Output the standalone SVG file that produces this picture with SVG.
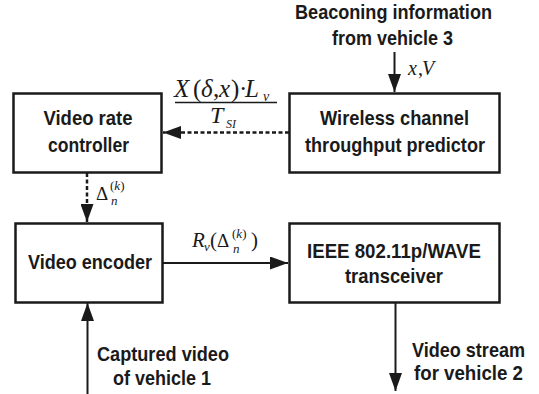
<svg xmlns="http://www.w3.org/2000/svg" width="539" height="394" viewBox="0 0 539 394">
<style>
.box{fill:#fff;stroke:#1a1a1a;stroke-width:2.5}
.lbl{font-family:"Liberation Sans",Arial,sans-serif;font-weight:bold;font-size:21px;fill:#1a1a1a;text-anchor:middle}
.m{font-family:"Liberation Serif","Times New Roman",serif;fill:#1a1a1a}
.it{font-style:italic}
.wire{stroke:#1a1a1a;stroke-width:2;fill:none}
.dash{stroke:#1a1a1a;stroke-width:2.5;fill:none;stroke-dasharray:4 2.5}
</style>
<defs>
<marker id="ah" markerUnits="userSpaceOnUse" markerWidth="18" markerHeight="13" refX="18" refY="6.5" orient="auto">
<path d="M0,0 L18,6.5 L0,13 Z" fill="#1a1a1a"/>
</marker>
</defs>
<rect width="539" height="394" fill="#fff"/>
<g id="connectors">
<line class="dash" x1="289" y1="132.5" x2="163" y2="132.5" marker-end="url(#ah)"/>
<line class="dash" x1="87" y1="173" x2="87" y2="222" marker-end="url(#ah)"/>
<line class="wire" x1="394.5" y1="52" x2="394.5" y2="92" marker-end="url(#ah)"/>
<line class="wire" x1="163" y1="263" x2="288" y2="263" marker-end="url(#ah)"/>
<line class="wire" x1="87.5" y1="394" x2="87.5" y2="303" marker-end="url(#ah)"/>
<line class="wire" x1="395.5" y1="302" x2="395.5" y2="391" marker-end="url(#ah)"/>
</g>
<g id="vrc">
<rect class="box" x="13.5" y="93.5" width="148" height="79"/>
<text class="lbl" x="88" y="125" textLength="89" lengthAdjust="spacingAndGlyphs">Video rate</text>
<text class="lbl" x="88.5" y="152" textLength="81" lengthAdjust="spacingAndGlyphs">controller</text>
</g>
<g id="wctp">
<rect class="box" x="289.5" y="93.5" width="210" height="79"/>
<text class="lbl" x="394.5" y="125" textLength="149" lengthAdjust="spacingAndGlyphs">Wireless channel</text>
<text class="lbl" x="395" y="152" textLength="180" lengthAdjust="spacingAndGlyphs">throughput predictor</text>
</g>
<g id="enc">
<rect class="box" x="15.5" y="223.5" width="147" height="79"/>
<text class="lbl" x="90" y="269" textLength="124" lengthAdjust="spacingAndGlyphs">Video encoder</text>
</g>
<g id="wave">
<rect class="box" x="289.5" y="223.5" width="210" height="79"/>
<text class="lbl" x="394" y="258" textLength="174" lengthAdjust="spacingAndGlyphs">IEEE 802.11p/WAVE</text>
<text class="lbl" x="394" y="283" textLength="98" lengthAdjust="spacingAndGlyphs">transceiver</text>
</g>
<g id="beacon">
<text class="lbl" x="393.5" y="19" textLength="197" lengthAdjust="spacingAndGlyphs">Beaconing information</text>
<text class="lbl" x="392.5" y="45" textLength="121" lengthAdjust="spacingAndGlyphs">from vehicle 3</text>
<text class="m" font-size="20" y="75"><tspan x="408" class="it">x</tspan><tspan x="418">,</tspan><tspan x="422" class="it">V</tspan></text>
</g>
<g id="captured">
<text class="lbl" x="163" y="361" textLength="132" lengthAdjust="spacingAndGlyphs">Captured video</text>
<text class="lbl" x="162" y="385" textLength="98" lengthAdjust="spacingAndGlyphs">of vehicle 1</text>
</g>
<g id="stream">
<text class="lbl" x="468.5" y="357" textLength="113" lengthAdjust="spacingAndGlyphs">Video stream</text>
<text class="lbl" x="468.5" y="380" textLength="109" lengthAdjust="spacingAndGlyphs">for vehicle 2</text>
</g>
<g id="fraction">
<text class="m" font-size="25" y="97"><tspan x="174" class="it">X</tspan><tspan x="193">(</tspan><tspan x="201" class="it">δ</tspan><tspan x="213">,</tspan><tspan x="219" class="it">x</tspan><tspan x="231">)</tspan><tspan x="239">·</tspan><tspan x="245" class="it">L</tspan></text>
<text class="m it" font-size="14" x="263" y="101">v</text>
<line x1="175" y1="102.5" x2="277" y2="102.5" stroke="#1a1a1a" stroke-width="1.5"/>
<text class="m it" font-size="24" x="210" y="123">T</text>
<text class="m it" font-size="12" x="226" y="128">SI</text>
</g>
<g id="delta">
<text class="m" font-size="19" x="96" y="200">Δ</text>
<text class="m" font-size="13" y="190"><tspan x="110">(</tspan><tspan class="it">k</tspan><tspan>)</tspan></text>
<text class="m it" font-size="13" x="111" y="205">n</text>
</g>
<g id="rate">
<text class="m it" font-size="21" x="192" y="247">R</text>
<text class="m it" font-size="13" x="204" y="251">v</text>
<text class="m" font-size="21" x="210" y="247">(</text>
<text class="m" font-size="19" x="217" y="247">Δ</text>
<text class="m" font-size="13" y="238"><tspan x="232">(</tspan><tspan class="it">k</tspan><tspan>)</tspan></text>
<text class="m it" font-size="13" x="233" y="253">n</text>
<text class="m" font-size="21" x="251" y="247">)</text>
</g>
</svg>
